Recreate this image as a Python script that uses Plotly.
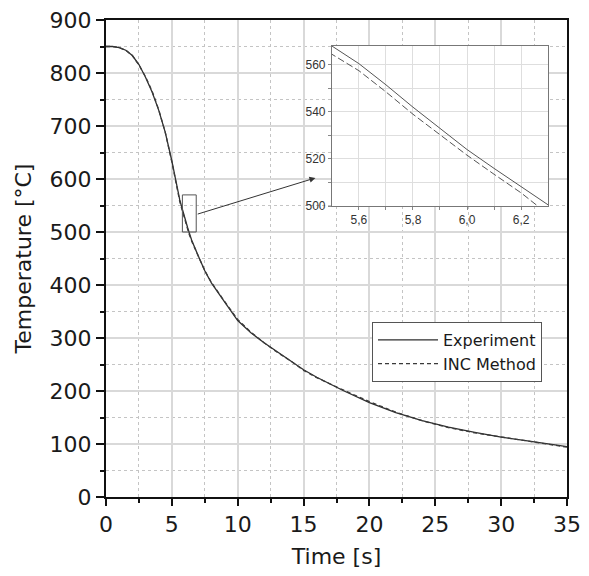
import plotly.graph_objects as go

# ---- data ----
time_s = [0, 0.5, 1, 1.5, 2, 2.5, 3, 3.5, 4, 4.5, 5, 5.25, 5.5, 5.6, 5.7, 5.8, 5.9,
          6.0, 6.1, 6.2, 6.3, 6.5, 7, 7.5, 8, 8.5, 9, 10, 11, 12, 13, 14, 15, 16,
          17, 18, 20, 22, 24, 26, 28, 30, 32, 34, 35]
temp_experiment = [850, 850, 848, 843, 833, 816, 792, 764, 730, 688, 634, 601, 568,
                   560.5, 551.5, 542, 533, 524, 516, 508, 500, 485, 455, 427, 404,
                   385, 368, 333, 310, 291, 274, 258, 240, 226, 213, 201, 178, 159,
                   144, 132, 122, 113, 106, 98, 95]
temp_inc = [850, 850, 848, 843, 833, 815, 793, 766, 731, 688, 632, 598, 564.5,
            557.5, 548.5, 539, 530.3, 521.6, 513.5, 505.6, 496.5, 483, 454, 427,
            405, 386, 369, 335, 311, 291, 273, 257, 239, 225, 213, 202, 180, 160,
            144, 131, 121, 113, 106, 98, 94]

x_ticks = [0, 5, 10, 15, 20, 25, 30, 35]
y_ticks = [0, 100, 200, 300, 400, 500, 600, 700, 800, 900]
inset_x_ticks = [5.6, 5.7, 5.8, 5.9, 6.0, 6.1, 6.2]
inset_x_labels = ["5,6", "", "5,8", "", "6,0", "", "6,2"]
inset_y_ticks = [500, 510, 520, 530, 540, 550, 560]
inset_y_labels = ["500", "", "520", "", "540", "", "560"]
zoom_box_x = [5.8, 6.85]
zoom_box_y = [500, 570]
arrow_from = (6.85, 533)
arrow_to = (15.9, 602)

FONT = "DejaVu Sans"
NARROW = "Liberation Sans Narrow, Arial Narrow, Liberation Sans"

fig = go.Figure()
fig.add_trace(go.Scatter(x=time_s, y=temp_experiment, mode="lines", name="Experiment",
                         line=dict(color="#2e2e2e", width=1.3)))
fig.add_trace(go.Scatter(x=time_s, y=temp_inc, mode="lines", name="INC Method",
                         line=dict(color="#3a3a3a", width=1.3, dash="4px,3px")))
# inset
fig.add_trace(go.Scatter(x=time_s, y=temp_experiment, mode="lines", showlegend=False,
                         xaxis="x2", yaxis="y2", line=dict(color="#555555", width=1)))
fig.add_trace(go.Scatter(x=time_s, y=temp_inc, mode="lines", showlegend=False,
                         xaxis="x2", yaxis="y2", line=dict(color="#555555", width=1, dash="7px,3px")))

grid_major = "#d9d9d9"
grid_minor = "#c4c4c4"

fig.update_layout(
    width=581, height=568,
    margin=dict(l=98, r=22, t=12, b=79),
    paper_bgcolor="white", plot_bgcolor="white",
    font=dict(family=FONT, size=22, color="#1a1a1a"),
    separators=", ",
    showlegend=True,
    legend=dict(x=0.577, y=0.367, xanchor="left", yanchor="top",
                bgcolor="white", bordercolor="#555555", borderwidth=1,
                font=dict(family=FONT, size=16, color="#1a1a1a"),
                itemwidth=60, tracegroupgap=0, entrywidth=185, entrywidthmode="pixels"),
    xaxis=dict(range=[0, 35], tickvals=x_ticks, ticks="outside", ticklen=7, tickwidth=2,
               tickcolor="#111", showline=True, linewidth=2, linecolor="#111", mirror=True,
               showgrid=True, gridcolor=grid_major, gridwidth=1.5, zeroline=False,
               minor=dict(dtick=2.5, ticks="outside", ticklen=4, tickwidth=2, tickcolor="#111",
                          showgrid=True, gridcolor=grid_minor, griddash="dot", gridwidth=1),
               title=dict(text="Time [s]", standoff=12, font=dict(size=22)),
               ticklabeloverflow="allow", automargin=False),
    yaxis=dict(range=[0, 900], tickvals=y_ticks, ticks="outside", ticklen=8, tickwidth=2,
               tickcolor="#111", showline=True, linewidth=2, linecolor="#111", mirror=True,
               showgrid=True, gridcolor=grid_major, gridwidth=1.5, zeroline=False,
               minor=dict(dtick=50, ticks="outside", ticklen=4, tickwidth=2, tickcolor="#111",
                          showgrid=True, gridcolor=grid_minor, griddash="dot", gridwidth=1),
               title=dict(text="Temperature [°C]", standoff=12, font=dict(size=22)),
               ticklabeloverflow="allow", automargin=False),
    xaxis2=dict(domain=[0.490, 0.959], anchor="y2", range=[5.5, 6.3],
                tickvals=inset_x_ticks, ticktext=inset_x_labels,
                ticks="outside", ticklen=3, tickcolor="#888",
                showline=True, linewidth=1, linecolor="#777", mirror=True,
                showgrid=True, gridcolor="#dedede", gridwidth=1, zeroline=False,
                tickfont=dict(family=NARROW, size=12, color="#333")),
    yaxis2=dict(domain=[0.610, 0.9455], anchor="x2", range=[500, 568],
                tickvals=inset_y_ticks, ticktext=inset_y_labels,
                ticks="outside", ticklen=3, tickcolor="#888",
                showline=True, linewidth=1, linecolor="#777", mirror=True,
                showgrid=True, gridcolor="#dedede", gridwidth=1, zeroline=False,
                tickfont=dict(family=NARROW, size=12, color="#333")),
    shapes=[dict(type="rect", xref="x", yref="y",
                 x0=zoom_box_x[0], x1=zoom_box_x[1], y0=zoom_box_y[0], y1=zoom_box_y[1],
                 line=dict(color="#555555", width=1), fillcolor="rgba(0,0,0,0)")],
    annotations=[dict(x=arrow_to[0], y=arrow_to[1], ax=arrow_from[0], ay=arrow_from[1],
                      xref="x", yref="y", axref="x", ayref="y", text="",
                      showarrow=True, arrowhead=2, arrowsize=1.2, arrowwidth=1,
                      arrowcolor="#333333")],
)

fig.write_html("out.html")
